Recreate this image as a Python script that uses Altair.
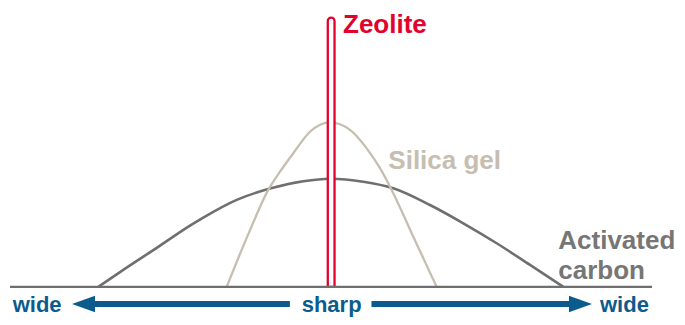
import altair as alt
import pandas as pd

# ---- data (x: pore-size axis 0..100, y: relative amount) ----
carbon_x = [13.75, 17.65, 22.85, 28.04, 30.11, 35.31, 40.50, 45.69, 49.84, 55.03, 59.70, 65.42, 70.61, 75.81, 81.00, 86.19]
carbon_y = [0.0, 6.35, 14.56, 22.88, 25.87, 32.48, 36.70, 39.42, 40.36, 39.27, 36.81, 30.57, 23.74, 16.28, 8.18, 0.0]

silica_x = [33.75, 37.07, 40.23, 42.06, 44.13, 46.73, 49.84, 52.96, 55.56, 57.63, 59.45, 62.82, 66.46]
silica_y = [0.0, 19.4, 36.2, 43.0, 49.9, 57.9, 61.4, 58.6, 51.7, 44.3, 36.2, 18.7, 0.0]

zeolite_x = [49.50, 50.55]
zeolite_top = 100.5

baseline_x = [0, 100]

label_text = ["Zeolite", "Silica gel"]
label_x = [51.87, 58.93]
label_y = [94.7, 43.9]

carbon_lines = ["Activated", "carbon"]
carbon_label_x = 85.4
carbon_label_y = 13.96

side_words = ["wide", "wide"]
side_word_x = [0.42, 91.9]
center_word = ["sharp"]
center_word_x = [50.1]
word_y = -9.4

arrow_y = -6.4
left_shaft = [11.6, 43.6]
right_shaft = [56.3, 88.7]
left_head_x = [11.45]
right_head_x = [88.86]

RED = "#e3022d"
SILICA = "#c5beb1"
CARBON = "#6f6f6f"
CARBON_TXT = "#767676"
BLUE = "#0c5b8d"
FONT = "Liberation Sans"

xs = alt.Scale(domain=[0, 100], nice=False, zero=False)
ys = alt.Scale(domain=[-10.5, 100], nice=False, zero=False)


def X(f, **kw):
    return alt.X(f, type="quantitative", scale=xs, axis=None, **kw)


def Y(f, **kw):
    return alt.Y(f, type="quantitative", scale=ys, axis=None, **kw)


carbon_df = pd.DataFrame({"x": carbon_x, "y": carbon_y})
silica_df = pd.DataFrame({"x": silica_x, "y": silica_y})

carbon = alt.Chart(carbon_df).mark_line(
    color=CARBON, strokeWidth=2.6, interpolate="monotone"
).encode(x=X("x"), y=Y("y"), order="x:Q")

silica = alt.Chart(silica_df).mark_line(
    color=SILICA, strokeWidth=2.3, interpolate="monotone"
).encode(x=X("x"), y=Y("y"), order="x:Q")

zeo_df = pd.DataFrame({"x": [zeolite_x[0]], "x2": [zeolite_x[1]], "y": [0.0], "y2": [zeolite_top]})
zeolite = alt.Chart(zeo_df).mark_rect(
    fill="white", stroke=RED, strokeWidth=2.3,
    cornerRadiusTopLeft=3.4, cornerRadiusTopRight=3.4
).encode(x=X("x"), x2="x2", y=Y("y"), y2="y2")

base_df = pd.DataFrame({"x": [baseline_x[0]], "x2": [baseline_x[1]], "y": [0.0]})
baseline = alt.Chart(base_df).mark_rule(color=CARBON, strokeWidth=2.2).encode(
    x=X("x"), x2="x2", y=Y("y")
)

shaft_df = pd.DataFrame({
    "x": [left_shaft[0], right_shaft[0]],
    "x2": [left_shaft[1], right_shaft[1]],
    "y": [arrow_y, arrow_y],
})
shafts = alt.Chart(shaft_df).mark_rule(color=BLUE, strokeWidth=6).encode(
    x=X("x"), x2="x2", y=Y("y")
)

lh_df = pd.DataFrame({"x": left_head_x, "y": [arrow_y]})
rh_df = pd.DataFrame({"x": right_head_x, "y": [arrow_y]})
left_head = alt.Chart(lh_df).mark_point(
    shape="M-1,0L1,-0.72L1,0.72Z", size=529, filled=True, fill=BLUE, stroke=None, opacity=1
).encode(x=X("x"), y=Y("y"))
right_head = alt.Chart(rh_df).mark_point(
    shape="M1,0L-1,-0.72L-1,0.72Z", size=529, filled=True, fill=BLUE, stroke=None, opacity=1
).encode(x=X("x"), y=Y("y"))

lab_df = pd.DataFrame({
    "t": label_text, "x": label_x, "y": label_y,
    "c": [RED, SILICA],
})
labels = alt.Chart(lab_df).mark_text(
    align="left", baseline="alphabetic", fontSize=26, fontWeight="bold", font=FONT
).encode(x=X("x"), y=Y("y"), text="t:N", color=alt.Color("c:N", scale=None))

carbon_lab_df = pd.DataFrame({"t": ["\n".join(carbon_lines)], "x": [carbon_label_x], "y": [carbon_label_y]})
carbon_label = alt.Chart(carbon_lab_df).mark_text(
    align="left", baseline="alphabetic", fontSize=26, fontWeight="bold", font=FONT,
    color=CARBON_TXT, lineBreak="\n", lineHeight=29.3
).encode(x=X("x"), y=Y("y"), text="t:N")

side_df = pd.DataFrame({"t": side_words, "x": side_word_x, "y": [word_y] * len(side_words)})
side_txt = alt.Chart(side_df).mark_text(
    align="left", baseline="alphabetic", fontSize=22, fontWeight="bold", font=FONT, color=BLUE
).encode(x=X("x"), y=Y("y"), text="t:N")

center_df = pd.DataFrame({"t": center_word, "x": center_word_x, "y": [word_y]})
center_txt = alt.Chart(center_df).mark_text(
    align="center", baseline="alphabetic", fontSize=22, fontWeight="bold", font=FONT, color=BLUE
).encode(x=X("x"), y=Y("y"), text="t:N")

chart = alt.layer(
    carbon, silica, zeolite, baseline, shafts, left_head, right_head,
    labels, carbon_label, side_txt, center_txt
).properties(
    width=642, height=296,
    padding={"left": 2, "right": 25, "top": 11, "bottom": 2},
    autosize=alt.AutoSizeParams(type="none"),
    background="white",
).configure_view(stroke=None)

chart.save("out.html", embed_options={"renderer": "svg", "actions": False})
